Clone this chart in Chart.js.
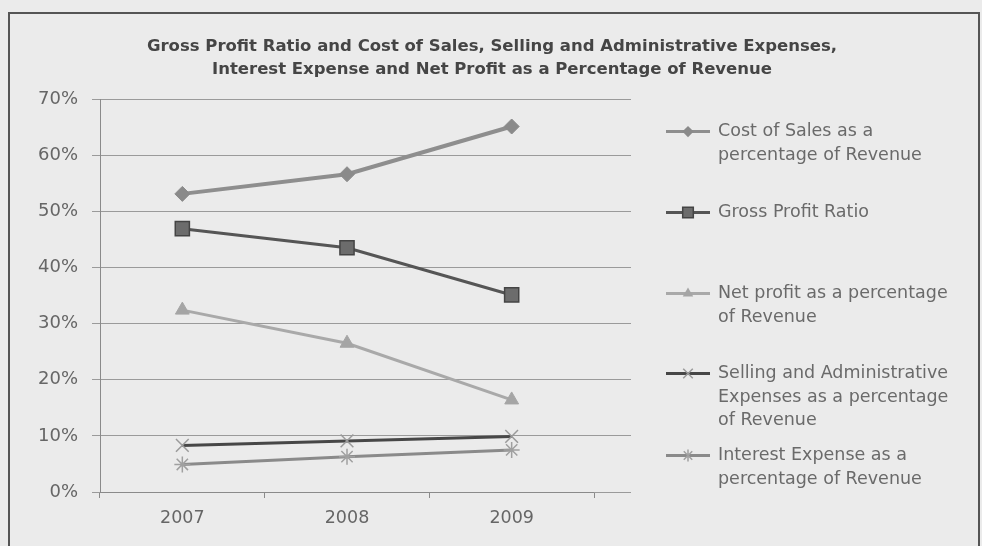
<!DOCTYPE html>
<html>
<head>
<meta charset="utf-8">
<script src="https://cdn.jsdelivr.net/npm/chart.js@4.4.0/dist/chart.umd.min.js"></script>
<style>
  body { margin: 0; background: #ebebeb; }
  #wrap { position: relative; width: 982px; height: 546px; overflow: hidden; }
  #frame { position: absolute; left: 8px; top: 12px; width: 968px; height: 560px; border: 2px solid #555; pointer-events: none; }
  #chart { position: absolute; left: 0; top: 0; }
  #title { position: absolute; left: 0; width: 984px; top: 34px; text-align: center; font-family: "DejaVu Sans", sans-serif; font-weight: bold; font-size: 16.5px; line-height: 23px; color: #454545; white-space: nowrap; }
  #legend { position: absolute; left: 664px; top: 0; font-family: "DejaVu Sans", sans-serif; font-size: 17.5px; color: #6a6a6a; }
  .item { position: absolute; left: 0; display: flex; align-items: flex-start; white-space: nowrap; line-height: 23.5px; }
  .item canvas { margin-right: 6px; flex: none; width: 48px; height: 24px; }
</style>
</head>
<body>
<div id="wrap">
  <canvas id="chart" width="982" height="546"></canvas>
  <div id="title"></div>
  <div id="legend"></div>
  <div id="frame"></div>
</div>
<script>
// categories and series (percent of revenue)
const years = ['2007', '2008', '2009'];
const costOfSales = [53.1, 56.6, 65.1];
const grossProfit = [46.9, 43.5, 35.1];
const netProfit = [32.4, 26.5, 16.4];
const sellingAdmin = [8.3, 9.1, 9.9];
const interestExp = [4.9, 6.3, 7.5];

const seriesNames = [
  ['Cost of Sales as a', 'percentage of Revenue'],
  ['Gross Profit Ratio'],
  ['Net profit  as a percentage', 'of Revenue'],
  ['Selling and Administrative', 'Expenses as a percentage', 'of Revenue'],
  ['Interest Expense as a', 'percentage of Revenue']
];
const titleLines = [
  'Gross Profit Ratio and Cost of Sales, Selling and Administrative Expenses,',
  'Interest Expense and Net Profit as a Percentage of Revenue'
];

// look of each series
const styles = [
  { line: '#8e8e8e', width: 4, point: 'rectRot', radius: 7.5, fill: '#8a8a8a', stroke: '#8a8a8a', pw: 1 },
  { line: '#555555', width: 3, point: 'rect', radius: 10, fill: '#6c6c6c', stroke: '#444', pw: 1.5 },
  { line: '#a9a9a9', width: 3, point: 'triangle', radius: 8, fill: '#a5a5a5', stroke: '#a5a5a5', pw: 1 },
  { line: '#474747', width: 3, point: 'crossRot', radius: 9, fill: '#9a9a9a', stroke: '#9a9a9a', pw: 1.5 },
  { line: '#8a8a8a', width: 3, point: 'star', radius: 8, fill: '#a0a0a0', stroke: '#a0a0a0', pw: 1.5 }
];
const seriesData = [costOfSales, grossProfit, netProfit, sellingAdmin, interestExp];

document.getElementById('title').innerHTML = titleLines.join('<br>');

//gridlines in the reference run a little past the last category
const gridExtend = {
  id: 'gridExtend',
  beforeDatasetsDraw(chart) {
    const { ctx, chartArea, scales: { y } } = chart;
    ctx.save();
    ctx.strokeStyle = '#9a9a9a';
    ctx.lineWidth = 1;
    y.ticks.forEach(t => {
      const py = Math.round(y.getPixelForValue(t.value) - 0.5) + 0.5;
      ctx.beginPath();
      ctx.moveTo(chartArea.right, py);
      ctx.lineTo(chartArea.right + 37, py);
      ctx.stroke();
    });
    ctx.restore();
  }
};

const chart = new Chart(document.getElementById('chart'), {
  type: 'line',
  plugins: [gridExtend],
  data: {
    labels: years,
    datasets: seriesData.map((d, i) => ({
      label: seriesNames[i].join(' '),
      data: d,
      borderColor: styles[i].line,
      borderWidth: styles[i].width,
      tension: 0,
      pointStyle: styles[i].point,
      pointRadius: styles[i].radius,
      pointBackgroundColor: styles[i].fill,
      pointBorderColor: styles[i].stroke,
      pointBorderWidth: styles[i].pw
    }))
  },
  options: {
    responsive: false,
    animation: false,
    layout: { padding: { left: 38, right: 388, top: 99, bottom: 0 } },
    plugins: {
      legend: { display: false },
      tooltip: { enabled: false },
      title: { display: false }
    },
    scales: {
      x: {
        offset: true,
        grid: { display: true, drawOnChartArea: false, offset: true, tickLength: 6, color: '#8a8a8a' },
        border: { color: '#8a8a8a' },
        ticks: { color: '#666', padding: 10, font: { family: 'DejaVu Sans', size: 17.5 } },
        afterFit(scale) { scale.height = 54; }
      },
      y: {
        min: 0,
        max: 70,
        ticks: { stepSize: 10, color: '#666', padding: 14, font: { family: 'DejaVu Sans', size: 18 }, callback: v => v + '%' },
        grid: { color: '#9a9a9a', tickLength: 8 },
        border: { color: '#8a8a8a' },
        afterFit(scale) { scale.width = 62; }
      }
    }
  }
});

// legend: line with marker, then the wrapped name
const legendTops = [119, 200, 281, 361, 443];
function drawMarker(ctx, s, x, y) {
  const r = s.radius * 0.75;
  ctx.fillStyle = s.fill;
  ctx.strokeStyle = s.stroke;
  ctx.lineWidth = s.pw;
  ctx.beginPath();
  if (s.point === 'rectRot') {
    ctx.moveTo(x, y - r); ctx.lineTo(x + r, y); ctx.lineTo(x, y + r); ctx.lineTo(x - r, y); ctx.closePath();
    ctx.fill();
  } else if (s.point === 'rect') {
    const h = r * Math.SQRT1_2;
    ctx.rect(x - h, y - h, 2 * h, 2 * h); ctx.fill(); ctx.stroke();
  } else if (s.point === 'triangle') {
    ctx.moveTo(x, y - r); ctx.lineTo(x + r * 0.87, y + r * 0.5); ctx.lineTo(x - r * 0.87, y + r * 0.5); ctx.closePath();
    ctx.fill();
  } else {
    const h = r * Math.SQRT1_2;
    ctx.moveTo(x - h, y - h); ctx.lineTo(x + h, y + h);
    ctx.moveTo(x + h, y - h); ctx.lineTo(x - h, y + h);
    if (s.point === 'star') { ctx.moveTo(x, y - r); ctx.lineTo(x, y + r); }
    ctx.stroke();
  }
}
const legend = document.getElementById('legend');
seriesNames.forEach((lines, i) => {
  const item = document.createElement('div');
  item.className = 'item';
  item.style.top = legendTops[i] + 'px';
  const c = document.createElement('canvas');
  c.width = 48; c.height = 24;
  const ctx = c.getContext('2d');
  ctx.strokeStyle = styles[i].line;
  ctx.lineWidth = 3;
  ctx.beginPath(); ctx.moveTo(2, 12.5); ctx.lineTo(46, 12.5); ctx.stroke();
  drawMarker(ctx, styles[i], 24, 12.5);
  item.appendChild(c);
  const t = document.createElement('div');
  t.innerHTML = lines.join('<br>');
  item.appendChild(t);
  legend.appendChild(item);
});
</script>
</body>
</html>
